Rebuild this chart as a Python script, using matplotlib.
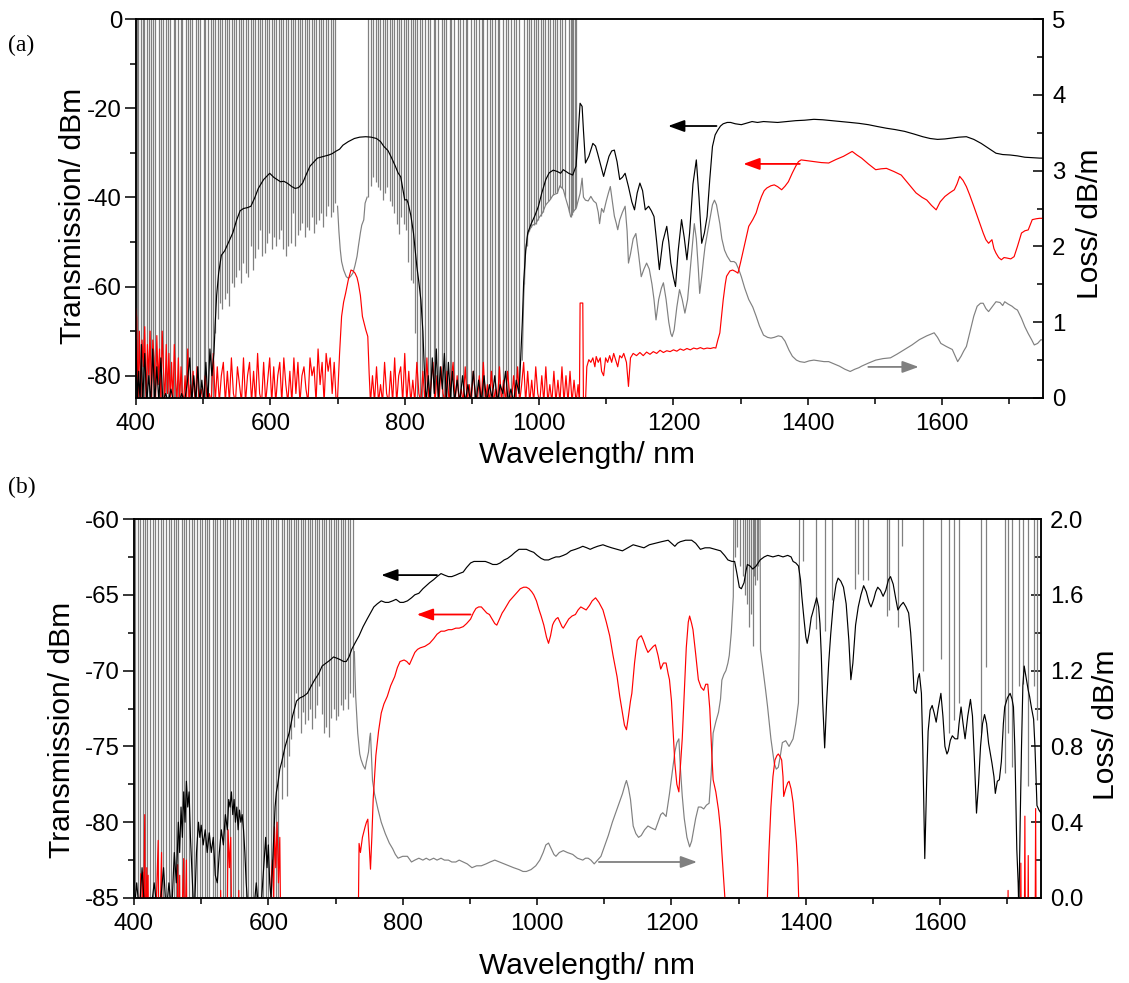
import matplotlib
matplotlib.use('Agg')
import matplotlib.pyplot as plt
from matplotlib.ticker import MultipleLocator, FormatStrFormatter

plt.rcParams['font.family'] = ['Liberation Sans', 'DejaVu Sans']
plt.rcParams['axes.unicode_minus'] = False

# ---------------------------------------------------------------- data (a)
black_a = [(400,-72),(402,-86),(404,-79),(406,-86),(408,-73),(410,-86),(413,-75),(416,-86),(419,-80),(422,-86),(425,-74),(428,-86),(431,-78),(434,-86),(437,-76),(440,-86),(444,-84),(448,-86),(452,-83),(456,-86),(460,-85),(464,-86),(468,-84),(472,-86),(476,-82),(480,-76),(483,-86),(486,-80),(489,-86),(492,-78),(495,-86),(498,-81),(501,-86),(504,-77),(507,-86),(510,-74),(513,-80),(516,-75),
(518,-68),(520,-62),(523,-57),(525,-55),(527,-53),(532,-52),(538,-50),(544,-48),(550,-45),(555,-43),(560,-42.5),(566,-42.3),(571,-42),(577,-40),(582,-38),(590,-36),(599,-34.6),(605,-35.5),(610,-36),(615,-36.5),(620,-36.4),(625,-36.8),(632,-37.6),(637,-38),(642,-37.8),(648,-36.8),(653,-35),(659,-33),(665,-32),(670,-31.2),(675,-31),(680,-30.8),(687,-30.5),(692,-30.2),(697,-29.7),(703,-29.2),(708,-28.3),(716,-27.5),(725,-26.8),(733,-26.5),(742,-26.4),(750,-26.5),(758,-26.8),(764,-27.5),(769,-28.6),(775,-29.5),(780,-31),(786,-33),(790,-34.5),(794,-35.4),(797,-38),(800,-40.6),(803,-40.5),(805,-41.3),(809,-44),(813,-48),(818,-55.5),(821,-59),(824,-63),(827,-70),(829,-78),
(832,-86),(835,-80),(838,-86),(841,-76),(844,-84),(847,-74),(850,-86),(853,-78),(856,-83),(859,-75),(862,-86),(865,-77),(868,-85),(871,-79),(874,-86),(878,-81),(882,-86),(886,-80),(890,-86),(894,-82),(898,-86),(902,-79),(906,-86),(910,-81),(914,-86),(918,-80),(922,-86),(926,-82),(930,-85),(934,-80),(938,-86),(942,-82),(946,-84),(950,-79),(954,-86),(958,-83),(962,-86),(966,-81),(970,-84),
(972,-78),(975,-68),(977,-59),(980,-52),(983,-48),(988,-46),(994,-44),(999,-42),(1004,-39),(1010,-36),(1015,-34.5),(1021,-33.9),(1027,-34.2),(1032,-34.6),(1036,-33.8),(1040,-34.2),(1044,-34.6),(1050,-35),(1055,-33),(1058,-26),(1061,-18.9),(1064,-19.6),(1066,-25),(1069,-32.3),(1074,-30.8),(1080,-27.9),(1084,-28.5),(1087,-30.1),(1092,-33),(1096,-35.3),(1100,-33),(1104,-30.8),(1108,-29.6),(1112,-29.4),(1116,-32),(1120,-36),(1124,-35.5),(1128,-34.6),(1133,-37.6),(1138,-41),(1142,-42.8),(1146,-39),(1150,-36.8),(1154,-38.5),(1158,-42.8),(1163,-42),(1167,-43),(1171,-44.3),(1175,-50),(1179,-56.2),(1184,-50),(1190,-46.5),(1193,-50),(1196,-54.7),(1200,-58),(1203,-60),(1207,-52),(1212,-45),(1216,-49),(1220,-54),(1224,-48),(1229,-37),(1234,-31.6),(1238,-40),(1242,-50.3),(1246,-48),(1250,-44.3),(1254,-36),(1258,-28.6),(1262,-26),(1266,-24.9),(1270,-24),(1274,-23.5),(1280,-23.2),(1285,-23.2),(1292,-23.5),(1301,-23.7),(1310,-23.3),(1317,-23),(1325,-23.2),(1334,-23),(1345,-23.1),(1355,-23.2),(1368,-23),(1382,-22.8),(1395,-22.7),(1409,-22.5),(1422,-22.6),(1436,-22.8),(1450,-23),(1463,-23.2),(1476,-23.4),(1490,-23.7),(1503,-24.1),(1517,-24.5),(1530,-24.8),(1544,-25.2),(1558,-25.8),(1571,-26.4),(1582,-26.8),(1593,-27),(1604,-26.9),(1615,-26.7),(1625,-26.5),(1636,-26.4),(1647,-27),(1658,-27.9),(1669,-29),(1680,-30.1),(1690,-30.4),(1701,-30.5),(1712,-30.7),(1723,-31),(1734,-31.1),(1745,-31.2),(1750,-31.2)]

red_a = [(400,-65),(401,-67),(403,-86),(405,-70),(407,-86),(409,-72),(411,-78),(413,-69),(415,-86),(417,-73),(419,-80),(421,-70),(423,-86),(425,-72),(427,-76),(429,-86),(431,-71),(433,-82),(435,-74),(437,-86),(439,-70),(441,-79),(443,-86),(445,-73),(447,-84),(449,-75),(451,-86),(453,-77),(455,-86),(457,-73),(459,-81),(461,-86),(463,-76),(465,-86),(467,-78),(469,-84),(471,-86),(473,-80),(475,-86),(477,-74),(479,-86),(481,-82),(483,-86),(485,-79),(488,-86),(491,-78),(494,-86),(497,-83),(500,-86),(503,-80),(506,-86),(509,-84),(512,-86),(515,-75),(518,-86),(521,-78),(524,-86),(527,-80),(530,-77),(533,-86),(536,-79),(539,-86),(542,-76),(545,-84),(548,-86),(551,-78),(554,-82),(557,-86),(560,-76),(563,-86),(566,-80),(569,-77),(572,-86),(575,-79),(578,-86),(581,-75),(584,-84),(587,-86),(590,-77),(593,-86),(596,-81),(599,-76),(602,-86),(605,-78),(608,-86),(611,-80),(614,-77),(617,-86),(620,-76),(623,-82),(626,-86),(629,-79),(632,-86),(635,-76),(638,-84),(641,-77),(644,-86),(647,-80),(650,-78),(653,-83),(656,-86),(659,-76),(662,-80),(665,-78),(668,-86),(671,-74),(674,-82),(677,-77),(680,-86),(683,-75),(686,-79),(689,-76),(692,-84),(695,-77),(698,-86),
(700,-85),(703,-75),(706,-66.7),(709,-63.5),(712,-61.5),(716,-58.5),(720,-56.3),(723,-56.5),(726,-57),(729,-58),(731,-59.3),(734,-62),(737,-66.7),(740,-68.5),(742,-69.7),(745,-71.2),(747,-79.4),(749,-86),
(752,-80),(755,-86),(758,-78),(761,-86),(764,-82),(767,-86),(770,-77),(773,-84),(776,-86),(779,-79),(782,-86),(785,-76),(788,-86),(791,-80),(794,-78),(797,-86),(800,-75),(803,-86),(806,-79),(809,-86),(812,-81),(815,-86),(818,-77),(821,-84),(824,-86),(827,-79),(830,-86),(833,-76),(836,-86),(839,-82),(842,-77),(845,-86),(848,-80),(851,-86),(854,-78),(857,-84),(860,-86),(863,-79),(866,-86),(869,-81),(872,-77),(875,-86),(878,-80),(881,-86),(884,-83),(887,-86),(890,-78),(893,-86),(896,-82),(899,-86),(902,-79),(905,-84),(908,-86),(911,-80),(914,-86),(917,-77),(920,-86),(923,-82),(926,-86),(929,-79),(932,-86),(935,-83),(938,-86),(941,-78),(944,-86),(947,-81),(950,-86),(953,-79),(956,-84),(959,-86),(962,-80),(965,-86),(968,-78),(971,-86),(974,-82),(977,-77),(980,-86),(983,-79),(986,-86),(989,-81),(992,-86),(995,-78),(998,-84),(1001,-86),(1004,-80),(1007,-86),(1010,-78),(1013,-86),(1016,-82),(1019,-86),(1022,-79),(1025,-86),(1028,-81),(1031,-86),(1034,-78),(1037,-86),(1040,-80),(1043,-86),(1046,-79),(1049,-86),(1052,-81),(1055,-86),(1058,-82),(1060,-86),(1061,-63.7),(1065,-63.7),(1066,-86),(1069,-86),(1071,-78),(1074,-76.4),(1077,-77),(1080,-76),(1083,-78),(1085,-75.7),(1088,-77),(1091,-76),(1093,-79),(1096,-80),(1099,-76),(1102,-77),(1105,-75.5),(1108,-77),(1111,-75),(1114,-76.5),(1117,-78),(1120,-75.5),(1123,-76),(1126,-75),(1130,-77),(1133,-82.4),(1136,-76),(1140,-75),(1145,-75.5),(1150,-74.8),(1155,-75.5),(1160,-74.7),(1165,-75.2),(1170,-74.6),(1175,-75),(1180,-74.3),(1185,-74.8),(1190,-74.4),(1195,-74.6),(1200,-74.2),(1205,-74.5),(1210,-74),(1215,-74.3),(1220,-73.9),(1225,-74.2),(1230,-73.8),(1235,-74),(1240,-73.7),(1245,-74),(1250,-73.8),(1255,-73.9),(1260,-73.7),(1263,-73.8),(1266,-72),(1269,-70.4),(1272,-66),(1274,-63),(1277,-59.5),(1279,-57.7),(1284,-56.5),(1288,-56.3),(1292,-56.6),(1296,-57),(1300,-54.5),(1304,-51.8),(1308,-49),(1312,-46.5),(1318,-45),(1323,-43.5),(1327,-41.5),(1331,-39.8),(1335,-38.5),(1339,-37.9),(1345,-37.4),(1350,-37.2),(1355,-37.6),(1361,-38.3),(1366,-37.5),(1371,-36.5),(1377,-34.5),(1382,-33),(1386,-32),(1390,-31.6),(1400,-31.8),(1409,-32),(1420,-32.2),(1431,-32.3),(1442,-31.5),(1453,-30.8),(1460,-30.2),(1466,-29.7),(1473,-30.5),(1480,-31.2),(1490,-32.5),(1501,-33.8),(1509,-33.6),(1517,-33.5),(1528,-34.2),(1539,-35),(1550,-37),(1561,-39),(1570,-40),(1577,-40.6),(1584,-41.8),(1591,-42.8),(1597,-41),(1604,-39.8),(1611,-39),(1618,-38.3),(1622,-37),(1626,-35.3),(1631,-36.2),(1636,-37.6),(1641,-39.5),(1647,-42),(1654,-45),(1661,-48),(1665,-49.5),(1669,-50.3),(1674,-49.5),(1677,-51.5),(1680,-52.5),(1684,-53.5),(1688,-54),(1692,-53.5),(1696,-53.6),(1702,-53.8),(1707,-53.3),(1712,-51),(1718,-48),(1723,-47.5),(1728,-47.3),(1734,-45),(1740,-44.8),(1745,-44.7),(1750,-44.7)]

# loss (a): smooth parts
gray_a_mid = [(700,2.53),(702,2.2),(704,1.96),(706,1.8),(709,1.69),(713,1.6),(716,1.58),(719,1.6),(723,1.65),(726,1.75),(729,1.87),(731,2.0),(734,2.18),(736,2.28),(739,2.35),(741,2.57),(744,2.65)]
gray_a_long = [(975,0.5),(977,1.3),(980,1.96),(983,2.15),(986,2.22),(990,2.28),(995,2.3),(1000,2.38),(1005,2.44),(1010,2.55),(1016,2.61),(1021,2.68),(1027,2.7),(1031,2.8),(1036,2.75),(1040,2.62),(1044,2.5),(1047,2.39),(1050,2.45),(1055,2.5),(1058,2.6),(1061,2.7),(1064,2.9),(1066,2.65),(1069,2.61),(1073,2.6),(1077,2.66),(1081,2.6),(1085,2.57),(1088,2.45),(1090,2.3),(1093,2.5),(1096,2.45),(1100,2.6),(1103,2.7),(1106,2.79),(1109,2.6),(1112,2.4),(1115,2.3),(1117,2.22),(1120,2.35),(1124,2.45),(1128,2.53),(1131,2.2),(1133,1.78),(1136,1.9),(1140,2.1),(1144,2.17),(1148,1.9),(1152,1.6),(1156,1.7),(1160,1.78),(1164,1.7),(1168,1.5),(1171,1.3),(1174,1.03),(1178,1.3),(1182,1.45),(1185,1.52),(1189,1.3),(1193,1.0),(1196,0.85),(1198,0.81),(1201,0.9),(1205,1.2),(1209,1.43),(1213,1.3),(1217,1.12),(1221,1.3),(1225,1.7),(1228,2.0),(1231,2.3),(1234,2.1),(1237,1.7),(1239,1.38),(1242,1.6),(1245,1.85),(1247,2.0),(1251,2.2),(1255,2.4),(1258,2.55),(1261,2.61),(1264,2.55),(1267,2.4),(1269,2.3),(1272,2.1),(1276,1.95),(1280,1.87),(1285,1.8),(1290,1.8),(1293,1.78),(1297,1.7),(1301,1.6),(1306,1.45),(1312,1.3),(1318,1.2),(1323,1.08),(1328,0.95),(1334,0.83),(1340,0.8),(1345,0.79),(1350,0.8),(1356,0.82),(1361,0.81),(1366,0.75),(1372,0.63),(1377,0.55),(1383,0.5),(1388,0.48),(1395,0.47),(1402,0.49),(1409,0.5),(1416,0.49),(1424,0.48),(1431,0.48),(1439,0.45),(1447,0.42),(1455,0.38),(1463,0.35),(1470,0.38),(1476,0.4),(1480,0.42),(1490,0.46),(1501,0.5),(1512,0.52),(1523,0.53),(1533,0.58),(1544,0.64),(1555,0.7),(1566,0.77),(1577,0.82),(1588,0.86),(1593,0.8),(1598,0.72),(1606,0.68),(1615,0.64),(1619,0.56),(1623,0.48),(1628,0.55),(1632,0.62),(1636,0.68),(1642,0.9),(1647,1.08),(1652,1.21),(1657,1.25),(1661,1.25),(1665,1.18),(1669,1.14),(1674,1.2),(1680,1.27),(1686,1.26),(1690,1.22),(1693,1.27),(1698,1.24),(1704,1.21),(1708,1.18),(1712,1.16),(1718,1.05),(1723,0.94),(1728,0.85),(1733,0.77),(1737,0.70),(1742,0.72),(1747,0.77),(1750,0.76)]
# loss (a): off-scale spikes, full height
gray_a_full_nm = [401,403,407,410,412,416,420,423,425,429,434,437,440,445,447,451,456,458,463,467,469,474,478,481,484,489,492,496,501,503,507,511,514,
                  818,823,825,830,834,838,843,845,850,855,858,862,867,869,874,879,882,886,891,893,898,903,906,910,915,917,922,927,930,934,939,941,946,951,954,958,963,965,970]
# loss (a): spikes from the top down to a trough
gray_a_spikes = [(518,0.86),(521.5,1.04),(525,1.25),(528.5,1.17),(532,1.3),(535.5,1.39),(539,1.21),(542.5,1.52),(546,1.47),(549.5,1.6),(553,1.69),(556.5,1.52),(560,1.78),(563.5,1.65),(567,1.6),(570.5,2.0),(574,1.69),(577.5,1.85),(581,1.96),(584.5,2.22),(588,1.87),(591.5,1.91),(595,2.05),(598.5,2.18),(602,1.96),(605.5,2.13),(609,2.0),(612.5,2.1),(616,2.22),(619.5,1.96),(623,1.87),(626.5,2.0),(630,2.04),(633.5,2.44),(637,2.0),(640.5,2.15),(644,2.22),(647.5,2.31),(651,2.13),(654.5,2.25),(658,2.22),(661.5,2.39),(665,2.18),(668.5,2.3),(672,2.35),(675.5,2.44),(679,2.26),(682.5,2.4),(686,2.53),(689.5,2.39),(693,2.45),(696.5,2.57),
                 (746,2.65),(749.5,2.8),(753,2.92),(756.5,2.85),(760,2.79),(763.5,2.75),(767,2.61),(770.5,2.7),(774,2.79),(777.5,2.6),(781,2.53),(784.5,2.44),(788,2.3),(791.5,2.17),(795,2.39),(798.5,2.3),(802,2.22),(805.5,1.8),(809,1.56),(812.5,1.52),(815,0.86),
                 (978,1.5),(981.5,2.0),(985,2.2),(988.5,2.25),(992,2.28),(995.5,2.3),(999,2.35),(1002.5,2.4),(1006,2.45),(1009.5,2.55),(1013,2.6),(1016.5,2.62),(1020,2.68),(1023.5,2.7),(1027,2.7),(1030.5,2.78),(1034,2.77),(1038,2.65),(1045,2.45),(1047.5,2.39),(1049,2.42),(1051,2.45),(1053,2.5),(1055,2.52)]

# ---------------------------------------------------------------- data (b)
black_b = [(400,-86),(404,-84),(408,-86),(412,-83),(416,-86),(420,-85),(425,-86),(430,-84),(435,-86),(440,-85),(444,-83),(448,-86),(452,-84),(456,-86),(460,-82),(463,-84),(466,-80),(468,-82),(470,-79),(472,-81),(474,-78),(476,-80),(478,-77.3),(480,-79),(482,-78),(484,-81),(486,-83),(488,-85),(490,-86),(493,-82),(496,-80),(498,-81),(500,-80.2),(503,-81.5),(506,-80.5),(509,-82),(512,-80.7),(515,-82),(518,-81),(521,-83.5),(524,-84),(527,-82),(530,-80.5),(533,-81.5),(536,-79.5),(539,-80.5),(541,-78.5),(543,-79),(545,-78),(547,-79.5),(549,-78.5),(551,-80),(553,-79),(555,-80.5),(557,-79.2),(559,-80),(561,-79.5),(563,-80.5),(565,-82),(567,-84),(570,-86),(574,-85),(578,-86),(582,-84),(586,-86),(590,-85),(593,-83),(596,-81),(598,-83),(600,-81.5),(602,-84),(604,-85),(606,-83),(608,-81),(610,-79),(612,-78),(614,-77.5),(617,-76.5),(620,-76),(625,-75),(631,-74.1),(636,-73),(642,-72),(647,-71.8),(652,-71.7),(658,-71.5),(664,-71),(669,-70.6),(675,-70.2),(680,-69.7),(686,-69.5),(692,-69.3),(697,-69.1),(703,-69.2),(708,-69.3),(712,-69.4),(716,-69.4),(720,-69.1),(724,-68.6),(730,-68.1),(735,-67.7),(741,-67.1),(747,-66.6),(752,-66.2),(757,-65.8),(762,-65.6),(768,-65.4),(774,-65.5),(779,-65.5),(785,-65.4),(790,-65.3),(796,-65.5),(801,-65.5),(807,-65.4),(813,-65.2),(818,-65.0),(824,-64.9),(830,-64.6),(835,-64.4),(840,-64.2),(846,-64.0),(851,-63.8),(857,-63.6),(862,-63.7),(868,-63.8),(873,-63.8),(879,-63.7),(884,-63.6),(890,-63.5),(895,-63.2),(901,-62.9),(906,-62.8),(912,-62.8),(917,-62.8),(923,-62.8),(929,-62.9),(934,-63.0),(940,-63.0),(945,-62.9),(951,-62.7),(956,-62.6),(962,-62.4),(967,-62.2),(973,-62.0),(978,-62.0),(984,-62.0),(989,-62.1),(995,-62.2),(1000,-62.4),(1006,-62.6),(1011,-62.7),(1017,-62.7),(1022,-62.6),(1028,-62.5),(1033,-62.5),(1039,-62.4),(1044,-62.3),(1050,-62.1),(1057,-62),(1063,-61.9),(1068,-61.8),(1074,-61.9),(1079,-62),(1084,-61.9),(1090,-61.8),(1098,-61.7),(1104,-61.8),(1111,-61.9),(1119,-62),(1127,-62.1),(1135,-61.9),(1143,-61.7),(1151,-61.8),(1159,-61.9),(1167,-61.7),(1176,-61.6),(1185,-61.5),(1195,-61.4),(1200,-61.6),(1205,-61.8),(1209,-61.6),(1213,-61.5),(1221,-61.4),(1230,-61.4),(1236,-61.6),(1243,-62),(1250,-61.9),(1257,-61.9),(1265,-62),(1273,-62.1),(1279,-62.4),(1284,-62.7),(1290,-62.8),(1294,-62.8),(1297,-63.5),(1301,-64.5),(1304,-64.6),(1308,-64.2),(1311,-63.4),(1313,-63),(1317,-63.1),(1321,-63.3),(1326,-63.1),(1332,-62.7),(1338,-62.5),(1343,-62.4),(1351,-62.5),(1359,-62.4),(1366,-62.5),(1373,-62.4),(1378,-62.5),(1381,-62.8),(1385,-62.9),(1389,-63.1),(1392,-64),(1394,-65.1),(1397,-66.5),(1400,-67.8),(1402,-68.2),(1405,-67.5),(1408,-66.5),(1410,-66.2),(1413,-65.7),(1416,-65.2),(1419,-65.8),(1421,-66.9),(1423,-69),(1425,-72),(1428,-75.1),(1431,-72),(1434,-69.5),(1437,-67.6),(1441,-65.5),(1445,-64.3),(1448,-63.9),(1452,-64.1),(1456,-64.5),(1460,-65.6),(1464,-68),(1467,-70.6),(1470,-69.5),(1474,-67),(1478,-65.8),(1482,-65),(1486,-64.4),(1490,-64.8),(1494,-65.5),(1497,-65.8),(1501,-65.3),(1504,-64.8),(1507,-64.5),(1511,-64.7),(1515,-65.1),(1519,-64.7),(1523,-64.0),(1526,-63.8),(1530,-64.3),(1534,-65.3),(1537,-66),(1541,-65.7),(1545,-65.5),(1549,-65.8),(1553,-66.2),(1556,-67.5),(1559,-69.5),(1561,-71.3),(1564,-71.5),(1567,-70.5),(1569,-70.2),(1572,-71.5),(1574,-75),(1577,-82.4),(1580,-77),(1582,-74),(1585,-72.6),(1588,-72.3),(1591,-72.8),(1594,-73.4),(1597,-72.5),(1601,-71.5),(1604,-73),(1607,-75),(1610,-75.5),(1612,-75.3),(1615,-74.6),(1618,-74.3),(1622,-74.5),(1626,-74.5),(1628,-73.5),(1631,-72.4),(1634,-73.5),(1637,-74.5),(1641,-73),(1645,-71.9),(1648,-73),(1651,-76),(1654,-79.4),(1657,-77.5),(1660,-75),(1663,-73.5),(1666,-72.9),(1669,-73.5),(1672,-74.8),(1677,-76.1),(1680,-77),(1682,-78.1),(1685,-77.3),(1688,-77.2),(1691,-76),(1694,-73.5),(1696,-72.4),(1700,-71.8),(1704,-71.5),(1707,-71.9),(1709,-72.4),(1711,-75),(1714,-81.8),(1716,-84),(1717,-86),(1719,-80),(1721,-75),(1723,-71),(1725,-69.7),(1728,-70.5),(1731,-71.3),(1733,-71.7),(1736,-72.5),(1739,-73.2),(1741,-75),(1744,-78.9),(1747,-79.2),(1750,-79.4)]

red_b = [(400,-90),(408,-90),(410,-83.4),(411,-90),(413,-83.3),(414,-88),(416,-79.5),(417,-90),(419,-83),(420,-90),(421,-83.5),(422,-90),(430,-90),(436,-81.2),(437,-90),(441,-82),(442,-90),(464,-90),(465,-82.8),(466,-90),(468,-83.5),(469,-90),(474,-82.4),(475,-90),(478,-82.5),(479,-90),(527,-90),(529,-84.5),(530,-90),(538,-90),(540,-80.5),(542,-83),(544,-81),(546,-90),(554,-90),(556,-84.5),(557,-90),(602,-90),(604,-84),(606,-82.5),(608,-85),(609,-80.3),(611,-83),(613,-80),(615,-84),(617,-81),(619,-90),
(733,-90),(735,-81.4),(737,-82),(740,-81),(744,-80.3),(746,-80),(748,-79.8),(750,-81.5),(752,-83.1),(754,-81),(756,-78.5),(758,-77),(760,-75.6),(764,-74),(768,-72.8),(772,-72.2),(777,-71.7),(782,-71),(788,-70.4),(792,-69.8),(796,-69.4),(802,-69.3),(806,-69.4),(810,-69.6),(814,-69.2),(818,-68.8),(822,-68.6),(826,-68.5),(833,-68.4),(840,-68.2),(846,-67.9),(851,-67.6),(857,-67.4),(862,-67.4),(868,-67.3),(873,-67.3),(879,-67.2),(884,-67.2),(890,-67.1),(895,-66.9),(901,-66.6),(905,-66.2),(909,-65.9),(913,-65.8),(917,-65.8),(921,-66.0),(925,-66.2),(929,-66.3),(933,-66.6),(937,-66.9),(940,-67),(944,-66.6),(948,-66.2),(951,-66),(955,-65.7),(959,-65.4),(963,-65.2),(967,-65),(971,-64.8),(975,-64.6),(980,-64.5),(984,-64.5),(988,-64.6),(992,-64.8),(995,-65),(999,-65.4),(1003,-66),(1006,-66.4),(1010,-67),(1014,-67.8),(1017,-68.2),(1020,-67.7),(1023,-67),(1025,-66.8),(1028,-66.6),(1031,-66.5),(1034,-66.8),(1037,-67.1),(1039,-67.2),(1043,-66.9),(1047,-66.6),(1052,-66.4),(1057,-66.3),(1061,-66),(1065,-65.8),(1069,-65.9),(1073,-66),(1078,-65.7),(1082,-65.4),(1087,-65.2),(1092,-65.5),(1098,-66),(1103,-66.8),(1108,-67.7),(1113,-69),(1119,-70.4),(1123,-71.7),(1127,-72.8),(1130,-73.6),(1133,-73.9),(1136,-73),(1139,-72),(1141,-71.5),(1145,-69.5),(1149,-68),(1152,-67.8),(1155,-67.7),(1158,-68),(1162,-68.5),(1165,-68.8),(1169,-68.6),(1173,-68.4),(1176,-68.3),(1180,-69),(1184,-69.9),(1188,-69.5),(1192,-69.5),(1195,-70.2),(1197,-70.6),(1200,-72),(1203,-74.5),(1205,-76.1),(1208,-77.5),(1211,-78),(1213,-76.5),(1216,-74.5),(1219,-71.5),(1222,-68.5),(1225,-66.8),(1227,-66.4),(1230,-66.9),(1232,-67.3),(1236,-68.9),(1240,-70.6),(1244,-71.1),(1248,-71.3),(1251,-70.9),(1254,-70.9),(1257,-72.5),(1260,-75.5),(1262,-77.2),(1266,-78),(1270,-79.2),(1273,-80.5),(1275,-82),(1278,-84),(1281,-86),(1282,-90),
(1340,-90),(1342,-86),(1345,-82),(1348,-79),(1351,-77),(1354,-75.9),(1357,-75.6),(1359,-75.5),(1362,-75.7),(1364,-75.9),(1366,-77),(1367,-78.3),(1370,-77.8),(1373,-77.4),(1375,-77.3),(1378,-77.8),(1381,-78.7),(1383,-79.8),(1386,-81.4),(1388,-83),(1390,-86),(1391,-90),
(1700,-90),(1701,-84.5),(1702,-90),(1719,-90),(1720,-82.7),(1721,-90),(1725,-90),(1726,-79.6),(1727,-90),(1730,-90),(1731,-82.2),(1732,-90),(1741,-90),(1742,-79.1),(1743,-90),(1750,-90)]

gray_b_main = [(728,1.3),(730,1.06),(733,0.87),(736,0.76),(738,0.73),(741,0.70),(744,0.68),(746,0.72),(749,0.77),(751,0.85),(752,0.87),(754,0.7),(755,0.62),(758,0.55),(763,0.47),(768,0.40),(774,0.34),(780,0.29),(785,0.26),(789,0.23),(793,0.21),(800,0.22),(807,0.22),(813,0.19),(818,0.2),(824,0.21),(830,0.2),(835,0.21),(840,0.2),(846,0.21),(851,0.2),(857,0.21),(862,0.2),(868,0.2),(873,0.19),(879,0.19),(884,0.2),(890,0.19),(896,0.18),(903,0.16),(910,0.17),(917,0.17),(924,0.18),(930,0.19),(937,0.2),(944,0.19),(951,0.18),(958,0.17),(965,0.16),(973,0.15),(979,0.14),(984,0.14),(991,0.15),(998,0.17),(1004,0.2),(1009,0.24),(1013,0.28),(1017,0.29),(1021,0.26),(1025,0.23),(1028,0.22),(1033,0.24),(1039,0.25),(1045,0.24),(1053,0.23),(1060,0.21),(1068,0.2),(1072,0.21),(1076,0.21),(1080,0.2),(1085,0.18),(1090,0.2),(1095,0.22),(1100,0.27),(1106,0.33),(1112,0.4),(1119,0.47),(1123,0.51),(1127,0.55),(1131,0.6),(1133,0.62),(1136,0.58),(1139,0.52),(1141,0.45),(1143,0.38),(1147,0.34),(1151,0.32),(1155,0.33),(1160,0.36),(1165,0.38),(1170,0.37),(1176,0.36),(1180,0.4),(1184,0.44),(1187,0.45),(1192,0.43),(1195,0.5),(1197,0.55),(1201,0.66),(1205,0.77),(1208,0.82),(1211,0.84),(1213,0.7),(1216,0.54),(1219,0.42),(1223,0.32),(1227,0.27),(1230,0.3),(1232,0.34),(1236,0.42),(1240,0.48),(1244,0.48),(1248,0.47),(1252,0.49),(1256,0.5),(1259,0.65),(1262,0.87),(1266,0.93),(1270,0.98),(1273,1.05),(1275,1.15),(1278,1.18),(1281,1.2),(1284,1.24),(1286,1.28),(1289,1.4),(1292,1.59),(1293.5,2.4),
(1331.5,2.4),(1332.5,1.31),(1335,1.24),(1340,1.1),(1343,1.01),(1348,0.84),(1353,0.71),(1356,0.68),(1359,0.69),(1362,0.75),(1365,0.82),(1370,0.83),(1375,0.8),(1381,0.84),(1385,0.92),(1389,1.03),(1390,1.33),(1391,2.4)]
gray_b_full_nm = [402,406,409,413,417,420,424,428,431,436,440,443,447,452,455,459,463,466,471,475,478,482,486,489,494,498,501,505,509,512,517,521,524,528,532,536,539,543,547,550,555,559,562,566,570,574,577,581,585,589,592,596,600,604,607,611,615]
gray_b_spikes = [(620,0.52),(623.5,0.69),(627,0.54),(630.5,0.75),(634,0.84),(637.5,0.9),(641,1.08),(644.5,0.95),(648,0.87),(651.5,0.98),(655,0.92),(658.5,0.94),(662,1.0),(665.5,0.89),(669,0.95),(672.5,1.02),(676,1.12),(679.5,0.97),(683,0.87),(686.5,0.9),(690,0.85),(693.5,0.95),(697,1.0),(700.5,0.94),(704,0.96),(707.5,1.02),(711,0.99),(714.5,1.05),(718,1.0),(722,1.08),(726,1.06),
                 (1294.5,1.8),(1298,1.85),(1302,1.75),(1306,1.7),(1310,1.6),(1313,1.55),(1316,1.43),(1319,1.5),(1321,1.33),(1323,1.7),(1325,1.65),(1327,1.68),(1329,1.75),
                 (1395.7,1.78),(1415.6,1.42),(1428,1.41),(1438.8,1.57),(1473.3,1.63),(1477.6,1.71),(1485.7,1.68),(1492.7,1.68),(1520.8,1.49),(1523.5,1.52),(1536.9,1.43),(1543.4,1.86),(1574.7,1.2),(1601.6,1.26),(1612.4,0.87),(1620.5,0.94),(1628.6,1.03),(1660.9,0.87),(1667.4,1.22),(1696,0.66),(1701.3,0.87),(1706.7,0.69),(1717.5,1.12),(1722.9,1.13),(1731,0.59),(1739.1,1.12),(1744.5,0.94)]

# arrows: (tail_nm, head_nm, level)
arrow_a_black = (1264, 1192, -24.0)
arrow_a_red = (1388, 1304, -32.5)
arrow_a_gray = (1490, 1565, 0.41)
arrow_b_black = (851, 768, -63.7)
arrow_b_red = (901, 821, -66.3)
arrow_b_gray = (1092, 1238, 0.19)

XLIM = (400, 1750)
C_BLACK, C_RED, C_GRAY = '#000000', '#ff0000', '#808080'
LW = 0.85
TICK_FS = 17.3
LAB_FS = 21.6


def unz(pairs):
    return [p[0] for p in pairs], [p[1] for p in pairs]


def arrow(ax, spec, color):
    tail, head, lev = spec
    ax.annotate('', xy=(head, lev), xytext=(tail, lev),
                arrowprops=dict(arrowstyle='-|>,head_length=0.55,head_width=0.2',
                                color=color, lw=1.3, mutation_scale=18,
                                shrinkA=0, shrinkB=0))


def style(ax, ax2, ymaj, ymin, rmaj, rmin, rfmt):
    ax.set_xlim(*XLIM)
    ax.xaxis.set_major_locator(MultipleLocator(200))
    ax.xaxis.set_minor_locator(MultipleLocator(100))
    ax.yaxis.set_major_locator(MultipleLocator(ymaj))
    ax.yaxis.set_minor_locator(MultipleLocator(ymin))
    ax2.yaxis.set_major_locator(MultipleLocator(rmaj))
    ax2.yaxis.set_minor_locator(MultipleLocator(rmin))
    ax2.yaxis.set_major_formatter(FormatStrFormatter(rfmt))
    ax.tick_params(axis='x', which='major', direction='out', length=5, width=1.1,
                   labelsize=TICK_FS, pad=6, top=False)
    ax.tick_params(axis='x', which='minor', direction='out', length=4, width=1.1, top=False)
    ax.tick_params(axis='y', which='major', direction='out', length=8, width=1.1,
                   labelsize=TICK_FS, pad=2)
    ax.tick_params(axis='y', which='minor', direction='out', length=4, width=1.1)
    ax2.tick_params(axis='y', which='major', direction='in', length=7, width=1.1,
                    labelsize=TICK_FS, pad=6.5)
    ax2.tick_params(axis='y', which='minor', direction='in', length=4, width=1.1)
    for a in (ax, ax2):
        for s in a.spines.values():
            s.set_linewidth(1.1)
    ax.set_zorder(ax2.get_zorder() + 1)
    ax.patch.set_visible(False)


fig = plt.figure(figsize=(11.29, 9.83), dpi=100)

# ------------------------------------------------------------ panel (a)
axa = fig.add_axes([136/1129, 1-398/983, 907/1129, 379/983])
axa2 = axa.twinx()
axa.set_ylim(-85, 0)
axa2.set_ylim(0, 5)

axa2.vlines(gray_a_full_nm, [-1]*len(gray_a_full_nm), 6, colors=C_GRAY, lw=0.9)
sx, sy = unz(gray_a_spikes)
axa2.vlines(sx, sy, 6, colors=C_GRAY, lw=0.9)
gx, gy = unz(gray_a_mid)
axa2.plot(gx, gy, color=C_GRAY, lw=LW)
gx, gy = unz(gray_a_long)
axa2.plot(gx, gy, color=C_GRAY, lw=LW)
rx, ry = unz(red_a)
axa.plot(rx, ry, color=C_RED, lw=LW)
bx, by = unz(black_a)
axa.plot(bx, by, color=C_BLACK, lw=LW)
arrow(axa, arrow_a_black, C_BLACK)
arrow(axa, arrow_a_red, C_RED)
arrow(axa2, arrow_a_gray, C_GRAY)

style(axa, axa2, 20, 10, 1, 0.5, '%d')
axa.set_xlabel('Wavelength/ nm', fontsize=LAB_FS)
axa.set_ylabel('Transmission/ dBm', fontsize=LAB_FS)
axa2.set_ylabel('Loss/ dB/m', fontsize=LAB_FS)
axa.xaxis.label.set_va('center')
axa.xaxis.set_label_coords(0.497, -0.150)
axa.yaxis.label.set_va('center')
axa.yaxis.set_label_coords(-0.0695, 0.48)
axa2.yaxis.label.set_va('center')
axa2.yaxis.label.set_rotation(90)
axa2.yaxis.set_label_coords(1.052, 0.459)

# ------------------------------------------------------------ panel (b)
axb = fig.add_axes([134/1129, 1-898/983, 907/1129, 379/983])
axb2 = axb.twinx()
axb.set_ylim(-85, -60)
axb2.set_ylim(0, 2.0)

axb2.vlines(gray_b_full_nm, [-1]*len(gray_b_full_nm), 3, colors=C_GRAY, lw=0.9)
sx, sy = unz(gray_b_spikes)
axb2.vlines(sx, sy, 3, colors=C_GRAY, lw=0.9)
gx, gy = unz(gray_b_main)
axb2.plot(gx, gy, color=C_GRAY, lw=LW)
rx, ry = unz(red_b)
axb.plot(rx, ry, color=C_RED, lw=LW)
bx, by = unz(black_b)
axb.plot(bx, by, color=C_BLACK, lw=LW)
arrow(axb, arrow_b_black, C_BLACK)
arrow(axb, arrow_b_red, C_RED)
arrow(axb2, arrow_b_gray, C_GRAY)

style(axb, axb2, 5, 2.5, 0.4, 0.2, '%.1f')
axb.set_xlabel('Wavelength/ nm', fontsize=LAB_FS)
axb.set_ylabel('Transmission/ dBm', fontsize=LAB_FS)
axb2.set_ylabel('Loss/ dB/m', fontsize=LAB_FS)
axb.xaxis.label.set_va('center')
axb.xaxis.set_label_coords(0.4995, -0.179)
axb.yaxis.label.set_va('center')
axb.yaxis.set_label_coords(-0.079, 0.443)
axb2.yaxis.label.set_va('center')
axb2.yaxis.label.set_rotation(90)
axb2.yaxis.set_label_coords(1.0717, 0.456)

fig.text(8/1129, 1-45/983, '(a)', fontsize=17, family='Liberation Serif', va='center', ha='left')
fig.text(8/1129, 1-487/983, '(b)', fontsize=17, family='Liberation Serif', va='center', ha='left')

fig.savefig('out.png', dpi=100)
